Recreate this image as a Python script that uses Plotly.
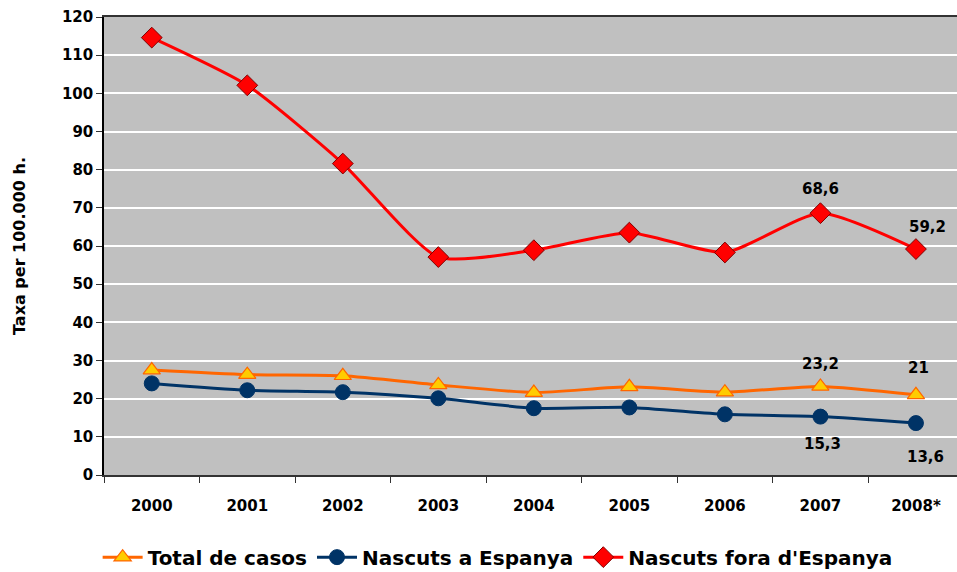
import plotly.graph_objects as go

years = ["2000", "2001", "2002", "2003", "2004", "2005", "2006", "2007", "2008*"]
total = [27.5, 26.3, 26.0, 23.6, 21.6, 23.1, 21.7, 23.2, 21.0]
espanya = [24.0, 22.2, 21.7, 20.1, 17.5, 17.7, 15.9, 15.3, 13.6]
fora = [114.6, 102.1, 81.6, 57.1, 58.9, 63.5, 58.3, 68.6, 59.2]

FONT = "DejaVu Sans"

fig = go.Figure()
fig.add_trace(go.Scatter(
    x=years, y=total, name="Total de casos", mode="lines+markers",
    line=dict(color="#FF6600", width=3, shape="spline", smoothing=0.6),
    marker=dict(symbol="triangle-up", size=15, color="#FFCC00",
                line=dict(color="#FF6600", width=1.2)),
))
fig.add_trace(go.Scatter(
    x=years, y=espanya, name="Nascuts a Espanya", mode="lines+markers",
    line=dict(color="#003366", width=3, shape="spline", smoothing=0.6),
    marker=dict(symbol="circle", size=15, color="#003366",
                line=dict(color="#003366", width=1)),
))
fig.add_trace(go.Scatter(
    x=years, y=fora, name="Nascuts fora d'Espanya", mode="lines+markers",
    line=dict(color="#FF0000", width=3, shape="spline", smoothing=0.6),
    marker=dict(symbol="diamond", size=16, color="#FF0000",
                line=dict(color="#800000", width=1)),
))

def fmt(v):
    s = ("%.1f" % v).replace(".", ",")
    return s[:-2] if s.endswith(",0") else s

# data labels for 2007 and 2008 (x given as category index)
labels = [
    (fora, 7, 24, 0), (fora, 8, 22, 12),
    (total, 7, 22, 0), (total, 8, 27, 3),
    (espanya, 7, -27, 2), (espanya, 8, -34, 10),
]
for series, i, ys, xs in labels:
    fig.add_annotation(x=i, y=series[i], text=fmt(series[i]),
                       showarrow=False, yshift=ys, xshift=xs,
                       font=dict(family=FONT, size=15, color="black", weight="bold"))

fig.update_layout(
    width=957, height=572,
    margin=dict(l=104, r=0, t=17, b=97, autoexpand=False),
    paper_bgcolor="white", plot_bgcolor="#C0C0C0",
    font=dict(family=FONT, color="black"),
    showlegend=True,
    legend=dict(orientation="h", xref="container", yref="container",
                x=0.52, xanchor="center", y=0.026, yanchor="middle",
                font=dict(family=FONT, size=20, color="black", weight="bold"),
                itemwidth=40, tracegroupgap=0),
    xaxis=dict(type="category", range=[-0.5, 8.43], automargin=False,
               showline=True, linecolor="#333333", linewidth=2, mirror=True,
               ticks="outside", tickson="boundaries", ticklen=6, tickcolor="#333333",
               ticklabelstandoff=16, showgrid=False,
               tickfont=dict(family=FONT, size=15, color="black", weight="bold")),
    yaxis=dict(range=[0, 120], dtick=10, showline=True, linecolor="black", linewidth=1.5,
               automargin=False,
               ticks="outside", ticklen=6, tickcolor="#333333",
               showgrid=True, gridcolor="white", gridwidth=1.5, zeroline=False,
               tickfont=dict(family=FONT, size=15, color="black", weight="bold"),
               title=dict(text="Taxa per 100.000 h.", standoff=32,
                          font=dict(family=FONT, size=16, color="black", weight="bold"))),
)

fig.write_html("out.html", config={"displayModeBar": False},
               post_script="document.body.style.margin='0';document.body.style.overflow='hidden';")
